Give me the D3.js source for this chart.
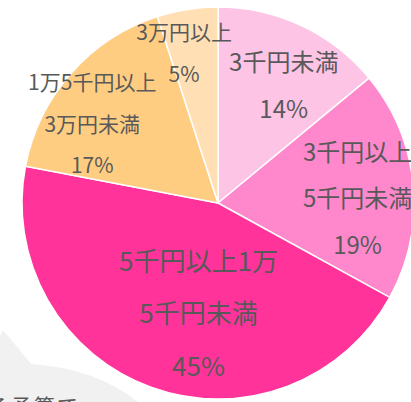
<!DOCTYPE html>
<html>
<head>
<meta charset="utf-8">
<script src="https://cdn.jsdelivr.net/npm/d3@7"></script>
<style>
  html, body { margin: 0; padding: 0; background: #fff; overflow: hidden; }
  svg { display: block; }
  text { font-family: "Noto Sans CJK JP", "Noto Sans", sans-serif; fill: #595959; }
</style>
</head>
<body>
<div id="chart"></div>
<script>
// data (clockwise from 12 o'clock)
const categories = [
  ["3千円未満"],
  ["3千円以上", "5千円未満"],
  ["5千円以上1万", "5千円未満"],
  ["1万5千円以上", "3万円未満"],
  ["3万円以上"]
];
const shares = [14, 19, 45, 17, 5];
const pctLabels = ["14%", "19%", "45%", "17%", "5%"];

const colors = ["#fdc4e6", "#ff88cc", "#ff3399", "#ffcd82", "#ffdfb3"];

// label look per slice
const labelStyle = [
  { r: 0.68, dx: 9, dy: 2, size: 24, gap: 47 },
  { r: 0.71, dx: 1, dy: 7, size: 24, gap: 46.5 },
  { r: 0.58, dx: 19, dy: 2, size: 26, gap: 52.5 },
  { r: 0.76, dx: -14, dy: 18, size: 21, gap: 41.5 },
  { r: 0.78, dx: -10, dy: 0, size: 21, gap: 42 }
];

const W = 411, H = 402;
const cx = 218, cy = 203, R = 196;

const svg = d3.select("#chart").append("svg")
  .attr("width", W).attr("height", H);

// grey callout shape behind the pie, partly cut off at the bottom left
svg.append("path")
  .attr("d", "M0,336 L3,330 L31,364 Q95,368 138,402 L0,402 Z")
  .attr("fill", "#f1f1f1");
svg.append("text")
  .attr("x", -12).attr("y", 414)
  .style("font-size", "21px")
  .style("letter-spacing", "2px")
  .text("る予算で");

const pie = d3.pie().sort(null).value(d => d);
const arcs = pie(shares);
const arc = d3.arc().innerRadius(0).outerRadius(R);

const g = svg.append("g").attr("transform", `translate(${cx},${cy})`);

g.selectAll("path.slice")
  .data(arcs)
  .enter().append("path")
  .attr("class", "slice")
  .attr("d", arc)
  .attr("fill", (d, i) => colors[i])
  .attr("stroke", "#fff")
  .attr("stroke-width", 1.5);

arcs.forEach((a, i) => {
  const st = labelStyle[i];
  const lab = d3.arc().innerRadius(R * st.r).outerRadius(R * st.r);
  const [x, y] = lab.centroid(a);
  const lines = categories[i].concat([pctLabels[i]]);
  const top = -(lines.length - 1) * st.gap / 2;
  const t = g.append("text")
    .attr("text-anchor", "middle")
    .style("font-size", st.size + "px");
  lines.forEach((ln, k) => {
    t.append("tspan")
      .attr("x", x + st.dx)
      .attr("y", y + st.dy + top + k * st.gap)
      .attr("dominant-baseline", "central")
      .text(ln);
  });
});
</script>
</body>
</html>
